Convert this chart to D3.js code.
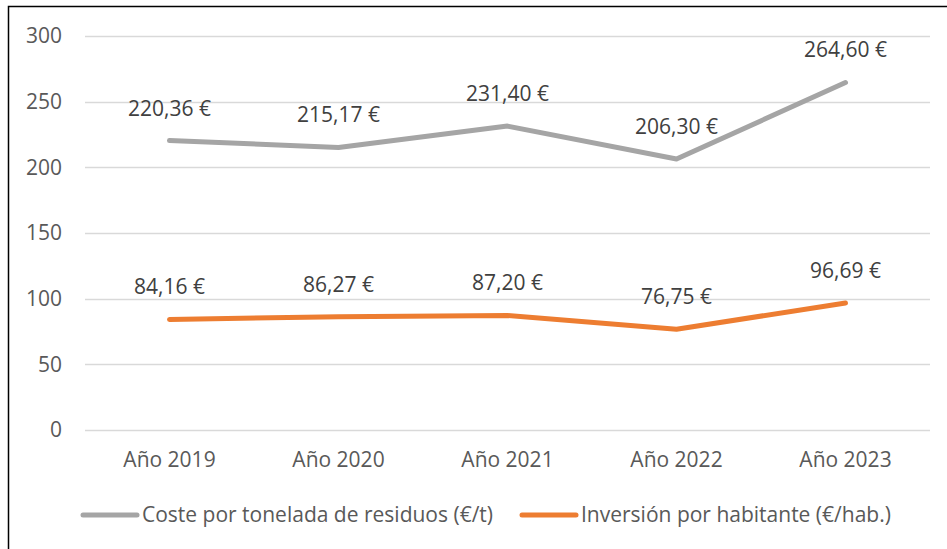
<!DOCTYPE html>
<html>
<head>
<meta charset="utf-8">
<script src="https://cdn.jsdelivr.net/npm/d3@7"></script>
<style>
  body { margin: 0; background: #fff; }
  text { font-family: "Open Sans", Lato, sans-serif; }
</style>
</head>
<body>
<div id="chart"></div>
<script>
// data
var years = ["Año 2019", "Año 2020", "Año 2021", "Año 2022", "Año 2023"];
var costeTonelada = [220.36, 215.17, 231.40, 206.30, 264.60];
var inversionHab = [84.16, 86.27, 87.20, 76.75, 96.69];
var yTicks = [0, 50, 100, 150, 200, 250, 300];
var seriesNames = ["Coste por tonelada de residuos (€/t)", "Inversión por habitante (€/hab.)"];
var seriesColors = ["#A5A5A5", "#ED7D31"];

var W = 947, H = 549;
var plotL = 85, plotR = 930, plotT = 36, plotB = 430;

var svg = d3.select("#chart").append("svg")
	.attr("width", W)
	.attr("height", H);

// chart frame (only left/top visible in the crop)
svg.append("rect")
	.attr("x", 8.5).attr("y", 6.5)
	.attr("width", W).attr("height", H)
	.attr("fill", "#fff")
	.attr("stroke", "#000")
	.attr("stroke-width", 1.5);

var x = d3.scaleBand().domain(years).range([plotL, plotR]);
var y = d3.scaleLinear().domain([0, 300]).range([plotB, plotT]);

// gridlines
svg.append("g").selectAll("line")
	.data(yTicks)
	.enter().append("line")
	.attr("x1", plotL).attr("x2", plotR)
	.attr("y1", function(d){ return Math.round(y(d)) + 0.5; })
	.attr("y2", function(d){ return Math.round(y(d)) + 0.5; })
	.attr("stroke", "#D9D9D9")
	.attr("stroke-width", 1.5);

// y axis labels
var yAxis = d3.axisLeft(y).tickValues(yTicks).tickSize(0).tickPadding(0);
var gy = svg.append("g").attr("transform", "translate(62,0)").call(yAxis);
gy.select(".domain").remove();
gy.selectAll("text")
	.attr("fill", "#595959")
	.style("font-size", "21px")
	.attr("dy", "0.33em");

// x axis labels
var xAxis = d3.axisBottom(x).tickSize(0).tickPadding(0);
var gx = svg.append("g").attr("transform", "translate(0,467)").call(xAxis);
gx.select(".domain").remove();
gx.selectAll("text")
	.attr("fill", "#595959")
	.style("font-size", "21px")
	.attr("y", 0)
	.attr("dy", 0);

var line = d3.line()
	.x(function(d, i){ return x(years[i]) + x.bandwidth() / 2; })
	.y(function(d){ return y(d); });

var fmt = function(v){ return v.toFixed(2).replace(".", ",") + " €"; };

[costeTonelada, inversionHab].forEach(function(vals, k)
{
	svg.append("path")
		.datum(vals)
		.attr("d", line)
		.attr("fill", "none")
		.attr("stroke", seriesColors[k])
		.attr("stroke-width", 5)
		.attr("stroke-linecap", "round")
		.attr("stroke-linejoin", "round");

	svg.append("g").selectAll("text")
		.data(vals)
		.enter().append("text")
		.attr("x", function(d, i){ return x(years[i]) + x.bandwidth() / 2; })
		.attr("y", function(d){ return y(d) - 25; })
		.attr("text-anchor", "middle")
		.attr("fill", "#404040")
		.style("font-size", "21px")
		.text(fmt);
});

// legend
var legX = [83, 522];
seriesNames.forEach(function(name, k)
{
	var g = svg.append("g").attr("transform", "translate(" + legX[k] + ",515)");
	g.append("line")
		.attr("x1", 0).attr("x2", 54)
		.attr("y1", 0).attr("y2", 0)
		.attr("stroke", seriesColors[k])
		.attr("stroke-width", 5)
		.attr("stroke-linecap", "round");
	g.append("text")
		.attr("x", 59).attr("y", 7)
		.attr("fill", "#595959")
		.style("font-size", "21px")
		.text(name);
});
</script>
</body>
</html>
